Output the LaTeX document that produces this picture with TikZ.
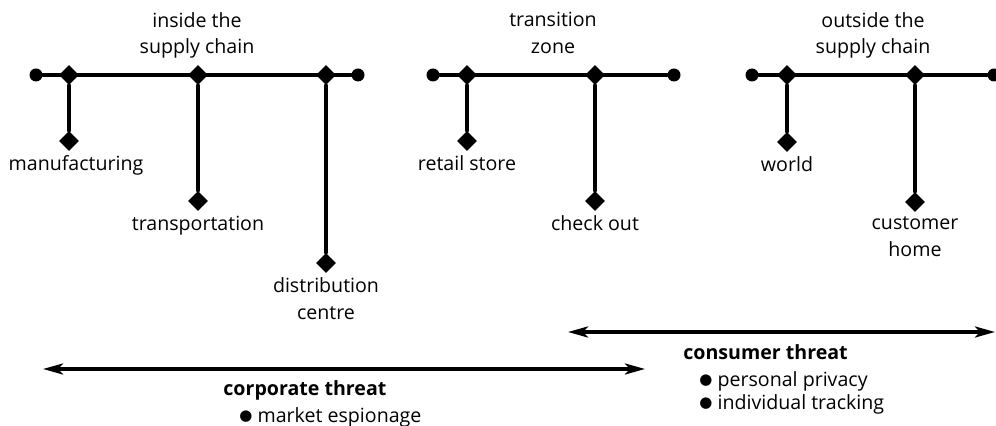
\documentclass[tikz,border=0pt]{standalone}
\usepackage{fontspec}
\setmainfont{Open Sans}
\newfontfamily\dotfont{DejaVu Sans}
\usetikzlibrary{shapes.geometric, positioning, arrows.meta}

\tikzset{
  stop/.style={diamond, fill, inner sep=0, minimum size=10pt},
  endpt/.style={circle, fill, inner sep=0, minimum size=6.5pt},
  place/.style={inner sep=0, align=center, font=\fontsize{9.8}{13.3}\selectfont},
  threat/.style={inner sep=0, align=left, anchor=north west, font=\fontsize{9.8}{11.5}\selectfont},
  track/.style={line width=1.7pt},
  reach/.style={line width=1.7pt, {Stealth[length=10pt, width=5.5pt, inset=2.5pt]}-{Stealth[length=10pt, width=5.5pt, inset=2.5pt]}},
}

\newcommand{\blt}{\raisebox{0.7pt}{\dotfont\fontsize{7.5}{7.5}\selectfont●}}

\begin{document}
\begin{tikzpicture}[x=0.5pt, y=-0.5pt, line cap=round, line join=round]
    \useasboundingbox (0,0) rectangle (996,426);

    % Inside the supply chain
    \node[endpt] (inL) at (36,75) {};
    \node[endpt] (inR) at (358,75) {};
    \draw[track] (inL) -- (inR);
    \node[stop] (manu) at (69,75) {};
    \node[stop] (trans) at (198,75) {};
    \node[stop] (distr) at (326,75) {};
    \node[stop] (manuE) at (69,141) {};
    \node[stop] (transE) at (198,201) {};
    \node[stop] (distrE) at (326,263) {};
    \draw[track] (manu) -- (manuE);
    \draw[track] (trans) -- (transE);
    \draw[track] (distr) -- (distrE);
    \node[place, below=2pt of manuE, xshift=3.5pt] (manuT) {manufacturing};
    \node[place, below=2pt of transE] (transT) {transportation};
    \node[place, below=2pt of distrE] (distrT) {distribution\\centre};
    \coordinate (inM) at (197,75);
    \node[place, above=8pt of inM] (inT) {inside the\\supply chain};

    % Transition zone
    \node[endpt] (trL) at (433,75) {};
    \node[endpt] (trR) at (674,75) {};
    \draw[track] (trL) -- (trR);
    \node[stop] (retail) at (467,75) {};
    \node[stop] (check) at (595,75) {};
    \node[stop] (retailE) at (467,141) {};
    \node[stop] (checkE) at (595,201) {};
    \draw[track] (retail) -- (retailE);
    \draw[track] (check) -- (checkE);
    \node[place, below=2pt of retailE] (retailT) {retail store};
    \node[place, below=2pt of checkE] (checkT) {check out};
    \coordinate (trM) at (553,75);
    \node[place, above=10.5pt of trM] (trT) {transition\\zone};

    % Outside the supply chain
    \node[endpt] (outL) at (752,75) {};
    \node[endpt] (outR) at (994,75) {};
    \draw[track] (outL) -- (outR);
    \node[stop] (world) at (787,75) {};
    \node[stop] (home) at (915,75) {};
    \node[stop] (worldE) at (787,142) {};
    \node[stop] (homeE) at (915,202) {};
    \draw[track] (world) -- (worldE);
    \draw[track] (home) -- (homeE);
    \node[place, below=2pt of worldE] (worldT) {world};
    \node[place, below=2pt of homeE] (homeT) {customer\\home};
    \coordinate (outM) at (873,75);
    \node[place, above=8pt of outM] (outT) {outside the\\supply chain};

    % Threat ranges
    \coordinate (conA) at (568,332);
    \coordinate (conB) at (995,332);
    \coordinate (corA) at (43,369);
    \coordinate (corB) at (645,369);
    \draw[reach] (conA) -- (conB);
    \draw[reach] (corA) -- (corB);
    \node[threat] (corT) at (223,380) {\textbf{corporate threat}\\[2pt]\hspace{8pt}\blt\ market espionage};
    \node[threat] (conT) at (683,344) {\textbf{consumer threat}\\[2pt]\hspace{8pt}\blt\ personal privacy\\\hspace{8pt}\blt\ individual tracking};

\end{tikzpicture}
\end{document}
